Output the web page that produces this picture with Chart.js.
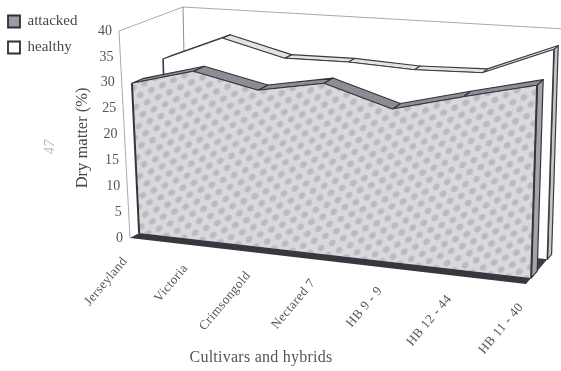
<!DOCTYPE html>
<html>
<head>
<meta charset="utf-8">
<title>Dry matter by cultivar</title>
<style>
  html, body { margin: 0; padding: 0; background: #fff; }
  #wrap { width: 561px; height: 371px; position: relative; }
</style>
<script src="https://cdn.jsdelivr.net/npm/chart.js@4"></script>
</head>
<body>
<div id="wrap"><canvas id="chart" width="561" height="371"></canvas></div>
<script>
const categories = ['Jerseyland', 'Victoria', 'Crimsongold', 'Nectared 7', 'HB 9 - 9', 'HB 12 - 44', 'HB 11 - 40'];
const attacked = [29.1, 32.3, 29.6, 31.8, 28.0, 31.2, 34.2];
const healthy = [31.3, 36.2, 33.1, 33.2, 32.6, 32.9, 38.0];
const yTickStep = 5;
const yMax = 40;

// Corners of the 3D box that holds the two area ribbons, in canvas pixels.
const BOX = {
  front: { bl: [130, 238], br: [526, 284], tl: [119, 31], tr: [533, 57] },
  back:  { bl: [187, 207], br: [558, 247], tl: [183, 7],  tr: [565, 29] }
};
const DEPTH_FORESHORTEN = 0.905;

const lerp = (a, b, t) => a + (b - a) * t;
function project(u, h, d) {
  const w = DEPTH_FORESHORTEN * u / (1 + (DEPTH_FORESHORTEN - 1) * u);
  const plane = p => [0, 1].map(i =>
    lerp(lerp(p.bl[i], p.br[i], w), lerp(p.tl[i], p.tr[i], w), h));
  const f = plane(BOX.front), b = plane(BOX.back);
  return [lerp(f[0], b[0], d), lerp(f[1], b[1], d)];
}

function dotPattern(ctx, bg, dot) {
  const tile = document.createElement('canvas');
  tile.width = 18; tile.height = 12;
  const t = tile.getContext('2d');
  t.fillStyle = bg;
  t.fillRect(0, 0, 18, 12);
  const spots = [[4.5, 3], [13.5, 9], [13.5, -3], [-4.5, 9], [22.5, 3], [4.5, 15]];
  spots.forEach(([x, y]) => {
    const g = t.createRadialGradient(x, y, 0.5, x, y, 3.9);
    g.addColorStop(0, dot);
    g.addColorStop(0.6, dot);
    g.addColorStop(1, bg);
    t.fillStyle = g;
    t.beginPath();
    t.arc(x, y, 3.9, 0, Math.PI * 2);
    t.fill();
  });
  const pattern = ctx.createPattern(tile, 'repeat');
  pattern.setTransform(new DOMMatrix([1, 0.12, -0.35, 1, 0, 0]));
  return pattern;
}

function path(ctx, pts, fill, stroke, width) {
  ctx.beginPath();
  pts.forEach((p, i) => (i ? ctx.lineTo(p[0], p[1]) : ctx.moveTo(p[0], p[1])));
  ctx.closePath();
  if (fill) { ctx.fillStyle = fill; ctx.fill(); }
  if (stroke) { ctx.strokeStyle = stroke; ctx.lineWidth = width || 1; ctx.lineJoin = 'round'; ctx.stroke(); }
}

function line(ctx, a, b, stroke, width) {
  ctx.beginPath();
  ctx.moveTo(a[0], a[1]);
  ctx.lineTo(b[0], b[1]);
  ctx.strokeStyle = stroke;
  ctx.lineWidth = width;
  ctx.stroke();
}

// Style of each ribbon: depth span in the box and its fills.
const RIBBONS = [
  { d0: 0.16, d1: 0.35, ridge: '#8d8e95', side: '#a3a4aa', edge: '#34343a', edgeWidth: 2 },
  { d0: 0.667, d1: 0.80, ridge: '#dfe5e5', side: '#c3c7cb', edge: '#3a3a40', edgeWidth: 1.6 }
];

const box3d = {
  id: 'box3d',
  beforeDatasetsDraw(chart) {
    const ctx = chart.ctx;
    ctx.save();
    const wall = '#a9a9a9';
    line(ctx, project(0, 1, 0), project(0, 1, 1), wall, 1);
    line(ctx, project(0, 1, 1), project(1, 1, 1), wall, 1);
    line(ctx, project(0, 1, 0), project(0, 0, 0), wall, 1);
    line(ctx, project(0, 1, 1), project(0, 0, 1), '#8c8c8c', 1);
    ctx.restore();
  },
  beforeDatasetDraw(chart, args) {
    const ctx = chart.ctx;
    const area = chart.chartArea;
    const meta = chart.getDatasetMeta(args.index);
    const style = RIBBONS[args.index];
    const n = meta.data.length;
    const top = meta.data.map(el => ({
      u: (el.x - area.left) / area.width,
      h: (area.bottom - el.y) / area.height
    }));
    const faceFill = args.index === 0 ? dotPattern(ctx, '#d8d9dd', '#b9bbc0') : '#ffffff';
    const last = top[n - 1];
    ctx.save();

    if (args.index === 1) {
      // floor seen beside the front ribbon
      path(ctx, [project(0, 0, 0.3), project(1, 0, 0.3), project(1, 0, 0.72), project(0, 0, 0.72)], '#3c3c42');
    }

    // right end cap
    path(ctx, [
      project(1, 0, style.d0), project(1, last.h, style.d0),
      project(1, last.h, style.d1), project(1, 0, style.d1)
    ], style.side, style.edge, 1.2);

    // top ribbon, one strip per segment
    for (let i = n - 2; i >= 0; i--) {
      const a = top[i], b = top[i + 1];
      path(ctx, [
        project(a.u, a.h, style.d0), project(b.u, b.h, style.d0),
        project(b.u, b.h, style.d1), project(a.u, a.h, style.d1)
      ], style.ridge, style.edge, 1.1);
    }

    // front face
    const outline = [project(0, 0, style.d0)]
      .concat(top.map(p => project(p.u, p.h, style.d0)))
      .concat([project(1, 0, style.d0)]);
    path(ctx, outline, faceFill);
    line(ctx, project(0, 0, style.d0), project(0, top[0].h, style.d0), style.edge, style.edgeWidth);
    line(ctx, project(1, 0, style.d0), project(1, last.h, style.d0), style.edge, style.edgeWidth);
    for (let i = 0; i < n - 1; i++) {
      line(ctx, project(top[i].u, top[i].h, style.d0), project(top[i + 1].u, top[i + 1].h, style.d0), style.edge, 1);
    }

    if (args.index === 0) {
      // dark plinth under the front ribbon
      path(ctx, [project(0, 0, 0), project(0, 0, style.d0), project(1, 0, style.d0), project(1, 0, 0)], '#37373d');
    }
    ctx.restore();
    return false;
  },
  afterDraw(chart) {
    const ctx = chart.ctx;
    const { x, y } = chart.scales;
    const textColor = '#55555a';
    ctx.save();
    ctx.fillStyle = textColor;

    // value ticks follow the front wall edge
    ctx.font = '14px "Liberation Serif"';
    ctx.textAlign = 'right';
    ctx.textBaseline = 'middle';
    y.ticks.forEach(t => {
      const p = project(0, t.value / y.max, 0);
      ctx.fillText(String(t.value), p[0] - 7, p[1]);
    });

    // slanted category labels hang from the front floor edge
    ctx.font = '13px "Liberation Serif"';
    ctx.letterSpacing = '0.4px';
    x.ticks.forEach((t, i) => {
      const p = project(i / (x.ticks.length - 1), 0, 0);
      ctx.save();
      ctx.translate(p[0] - 5, p[1] + 21);
      ctx.rotate(-50 * Math.PI / 180);
      ctx.fillText(x.getLabelForValue(t.value), 0, 0);
      ctx.restore();
    });

    // horizontal axis name
    ctx.font = '16px "Liberation Serif"';
    ctx.letterSpacing = '0.25px';
    ctx.textAlign = 'center';
    ctx.fillText(x.options.title.text, 261, 358);
    ctx.letterSpacing = '0px';

    // faint pencil note in the margin
    ctx.save();
    ctx.translate(50, 147);
    ctx.rotate(-Math.PI / 2);
    ctx.font = 'italic 15px "Liberation Serif"';
    ctx.fillStyle = '#bdbdbd';
    ctx.fillText('47', 0, 0);
    ctx.restore();
    ctx.restore();
  }
};

new Chart(document.getElementById('chart'), {
  type: 'line',
  data: {
    labels: categories,
    datasets: [
      { label: 'attacked', data: attacked, backgroundColor: '#9b9ca3', borderColor: '#2e2e34', borderWidth: 1.8 },
      { label: 'healthy', data: healthy, backgroundColor: '#ffffff', borderColor: '#2e2e34', borderWidth: 1.8 }
    ]
  },
  options: {
    responsive: false,
    animation: false,
    layout: { padding: { left: -3, top: 3, right: 35, bottom: 93 } },
    scales: {
      x: {
        type: 'category',
        offset: false,
        grid: { display: false },
        border: { display: false },
        ticks: { display: false },
        title: { display: false, text: 'Cultivars and hybrids' }
      },
      y: {
        min: 0,
        max: yMax,
        grid: { display: false },
        border: { display: false },
        ticks: { display: false, stepSize: yTickStep },
        title: {
          display: true,
          text: 'Dry matter (%)',
          color: '#47474c',
          font: { family: '"Liberation Serif"', size: 16.5 },
          padding: { top: -15, bottom: 0 }
        },
        afterFit(scale) { scale.width = 48; }
      }
    },
    plugins: {
      title: { display: false },
      tooltip: { enabled: false },
      legend: {
        display: true,
        position: 'left',
        align: 'start',
        labels: {
          boxWidth: 12,
          boxHeight: 12,
          padding: 11,
          color: '#47474c',
          font: { family: '"Liberation Serif"', size: 15 }
        }
      }
    }
  },
  plugins: [box3d]
});
</script>
</body>
</html>
